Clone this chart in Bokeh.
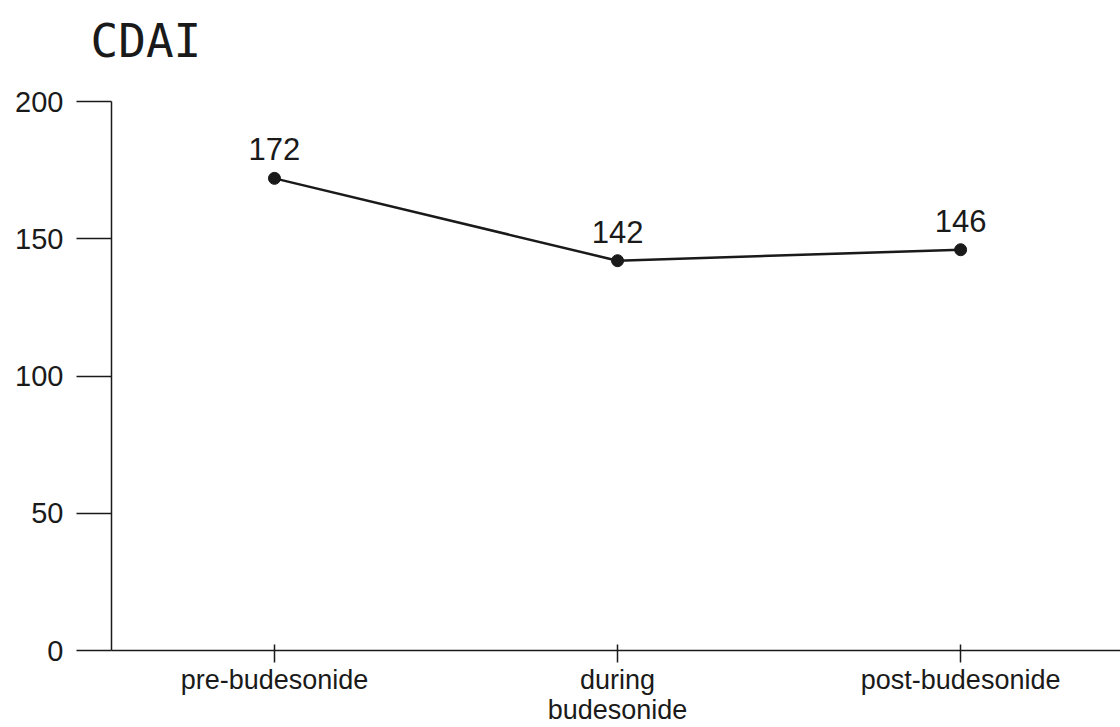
from bokeh.plotting import figure
from bokeh.models import ColumnDataSource, FixedTicker, Range1d, Title
from bokeh.core.properties import value
from bokeh.embed import file_html
from bokeh.resources import INLINE

title_text = "CDAI"
categories = ["pre-budesonide", "during\nbudesonide", "post-budesonide"]
cdai = [172, 142, 146]
y_ticks = [0, 50, 100, 150, 200]

xs = list(range(len(categories)))
src = ColumnDataSource(dict(x=xs, y=cdai, lab=[str(v) for v in cdai]))

FONT = "Liberation Sans"
INK = "#1a1a1a"

x_range = Range1d(-0.475, 2.466)
y_range = Range1d(0, 200)
p = figure(width=1120, height=727, output_backend="svg", toolbar_location=None,
           title=None, x_range=x_range, y_range=y_range,
           min_border_left=111, min_border_right=0, min_border_top=101, min_border_bottom=76)
p.outline_line_color = None
p.xgrid.visible = False
p.ygrid.visible = False
p.background_fill_color = "white"

# spacer (inner) then the visible title (outer)
p.add_layout(Title(text=" ", text_font_size="10px", standoff=21), "above")
p.add_layout(Title(text=title_text, text_font="DejaVu Sans Mono", text_font_size="46px",
                   text_font_style="normal", text_color=INK, align="left",
                   offset=-21, standoff=0), "above")

p.line("x", "y", source=src, line_color=INK, line_width=2.5)
p.scatter("x", "y", source=src, size=12, fill_color=INK, line_color=INK)
p.text("x", "y", text="lab", source=src, text_font=value(FONT), text_font_size="31px",
       text_color=INK, text_align="center", text_baseline="bottom", y_offset=-18)

ya = p.yaxis[0]
ya.ticker = FixedTicker(ticks=y_ticks)
ya.minor_tick_line_color = None
ya.major_tick_in = 0
ya.major_tick_out = 35
ya.major_label_standoff = 13
ya.axis_line_color = INK
ya.major_tick_line_color = INK
ya.axis_line_width = 1.5
ya.major_tick_line_width = 1.5
ya.major_label_text_font = FONT
ya.major_label_text_font_size = "29px"
ya.major_label_text_color = INK

xa = p.xaxis[0]
xa.ticker = FixedTicker(ticks=xs)
xa.major_label_overrides = {i: c for i, c in zip(xs, categories)}
xa.minor_tick_line_color = None
xa.major_tick_in = 6
xa.major_tick_out = 12
xa.major_label_standoff = 2
xa.axis_line_color = INK
xa.major_tick_line_color = INK
xa.axis_line_width = 1.5
xa.major_tick_line_width = 1.5
xa.major_label_text_font = FONT
xa.major_label_text_font_size = "27px"
xa.major_label_text_line_height = 1.0
xa.major_label_text_color = INK

open("out.html", "w").write(file_html(p, INLINE))
